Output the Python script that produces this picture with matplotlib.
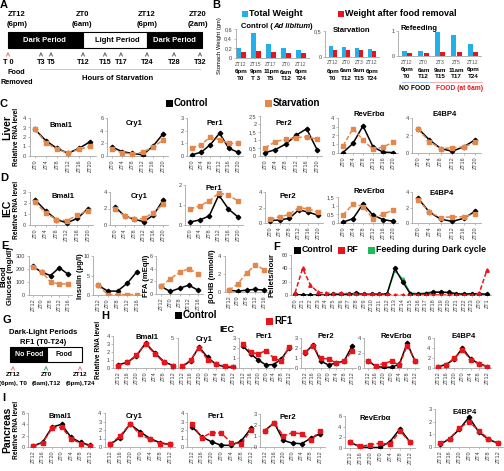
import numpy as np
import matplotlib
matplotlib.use("Agg")
import matplotlib.pyplot as plt
from matplotlib.patches import Rectangle
from matplotlib.ticker import FuncFormatter
from matplotlib.offsetbox import TextArea, HPacker, AnnotationBbox

plt.rcParams['font.family'] = ['Liberation Sans', 'DejaVu Sans']

# ---------------- data ----------------
zt6 = ['ZT0', 'ZT4', 'ZT8', 'ZT12', 'ZT16', 'ZT20']
zt7 = ['ZT12', 'ZT16', 'ZT20', 'ZT0', 'ZT4', 'ZT8', 'ZT12']
zt5 = ['ZT12', 'ZT0', 'ZT8', 'ZT12', 'ZT16']
genes = ['Bmal1', 'Cry1', 'Per1', 'Per2', 'RevErbα', 'E4BP4']

# B - stomach weight
b_ctrl_lbl = [('ZT12', '6pm', 'T0'), ('ZT15', '9pm', 'T 3'), ('ZT17', '11pm', 'T5'), ('ZT0', '6am', 'T12'), ('ZT12', '6pm', 'T24')]
b_ctrl_total = [0.20, 0.52, 0.28, 0.21, 0.17]
b_ctrl_after = [0.13, 0.15, 0.12, 0.10, 0.10]
b_starv_lbl = [('ZT12', '6pm', 'T0'), ('ZT0', '6am', 'T12'), ('ZT3', '9am', 'T15'), ('ZT12', '6pm', 'T24')]
b_starv_total = [0.21, 0.20, 0.18, 0.15]
b_starv_after = [0.13, 0.13, 0.13, 0.12]
b_refeed_lbl = [('ZT12', '6pm', 'T0'), ('ZT0', '6am', 'T12'), ('ZT3', '9am', 'T15'), ('ZT5', '11am', 'T17'), ('ZT12', '6pm', 'T24')]
b_refeed_total = [0.20, 0.20, 0.95, 0.85, 0.50]
b_refeed_after = [0.14, 0.12, 0.18, 0.16, 0.17]

# C - liver, control vs starvation
liver_ctrl = [[2.8, 1.6, 0.8, 0.3, 0.8, 1.5],
              [1.4, 0.7, 0.4, 0.2, 1.5, 3.5],
              [0.1, 0.3, 0.9, 1.8, 0.6, 0.3],
              [0.2, 0.4, 0.75, 1.3, 1.7, 0.4],
              [0.05, 1.1, 3.1, 0.7, 0.1, 0.05],
              [2.8, 1.5, 0.5, 0.2, 0.7, 1.5]]
liver_starv = [[2.8, 1.4, 0.7, 0.3, 0.7, 1.0],
               [1.1, 0.5, 0.3, 0.6, 1.4, 2.5],
               [0.6, 0.9, 1.5, 1.3, 1.0, 1.0],
               [0.5, 0.9, 1.05, 1.15, 1.2, 1.05],
               [0.8, 2.8, 1.5, 0.4, 0.7, 1.2],
               [2.7, 1.3, 0.5, 0.6, 0.7, 1.2]]
# D - IEC, control vs starvation
iec_ctrl = [[2.3, 1.3, 0.5, 0.2, 0.6, 1.5],
            [2.2, 1.1, 0.7, 0.4, 1.2, 3.0],
            [0.15, 0.25, 0.45, 1.5, 0.8, 0.4],
            [0.3, 0.4, 0.6, 1.7, 1.4, 1.0],
            [0.05, 0.25, 1.1, 0.45, 0.2, 0.1],
            [3.2, 1.4, 0.5, 0.2, 0.6, 1.5]]
iec_starv = [[2.1, 1.1, 0.5, 0.4, 0.9, 1.3],
             [1.9, 1.1, 0.7, 0.8, 1.5, 2.5],
             [0.8, 0.95, 1.2, 1.6, 1.5, 1.2],
             [0.55, 0.8, 1.1, 2.0, 1.8, 1.4],
             [0.45, 1.1, 0.95, 0.25, 0.5, 0.75],
             [3.0, 1.4, 0.7, 0.8, 0.8, 1.2]]
# E - blood
blood_names = ['Glucose', 'Insulin', 'FFA', 'βOHB']
blood_ctrl = [[220, 175, 150, 210, 160],
              [2.5, 1.0, 1.0, 3.0, 6.0],
              [1.2, 0.4, 0.9, 1.4, 0.6],
              [0.2, 0.1, 0.2, 0.3, 0.2]]
blood_starv = [[215, 180, 100, 85, 85],
               [2.5, 0.1, 0.1, 0.1, 0.1],
               [1.2, 2.4, 3.4, 4.0, 3.2],
               [0.2, 0.9, 2.1, 3.0, 2.5]]
# F - feeding activity
f_labels = ['ZT%d' % h for h in range(24)] + ['ZT0', 'ZT1']
f_ctrl = [1, 0, 0, 0, 0, 1, 1, 1, 3, 1, 1, 1, 2, 40, 20, 2, 1, 2, 4, 4, 4, 2, 1, 2, 2, 1]
f_rf = [3, 40, 15, 4, 3, 2, 3, 2, 2, 1, 1, 2, 1, 0, 0, 0, 0, 0, 0, 0, 0, 0, 0, 0, 3, 38]
f_dark = [1, 0, 0, 0, 0, 1, 1, 1, 1, 1, 1, 1, 2, 37, 24, 3, 2, 3, 5, 5, 3, 2, 2, 2, 1, 1]
# H - IEC, control vs RF1
h_ctrl = [[0.4, 0.7, 1.5, 3.1, 1.9, 0.8, 0.3],
          [0.2, 1.2, 3.5, 1.8, 0.6, 0.2, 0.1],
          [2.2, 1.4, 0.8, 0.3, 0.35, 0.9, 2.0],
          [1.5, 2.3, 0.7, 0.3, 0.5, 0.7, 2.2],
          [1.0, 0.2, 0.1, 0.1, 0.5, 3.3, 0.9],
          [0.3, 0.7, 1.8, 4.0, 1.8, 0.9, 0.3]]
h_rf = [[0.3, 0.7, 1.6, 3.0, 1.8, 0.7, 0.3],
        [0.3, 1.3, 3.4, 1.4, 0.7, 0.3, 0.2],
        [2.4, 1.6, 1.4, 1.75, 1.0, 0.7, 2.1],
        [1.6, 2.2, 1.0, 0.9, 0.5, 0.7, 1.7],
        [0.9, 0.3, 0.6, 0.9, 0.4, 3.0, 1.0],
        [0.2, 0.6, 2.0, 3.6, 1.7, 0.8, 0.3]]
# I - pancreas, control vs RF1
i_ctrl = [[0.2, 0.8, 3.5, 4.0, 1.7, 0.8, 0.3],
          [0.3, 1.1, 2.7, 1.8, 1.0, 0.5, 0.3],
          [2.4, 1.2, 0.6, 0.2, 0.2, 0.7, 2.2],
          [1.5, 2.2, 0.6, 0.35, 0.3, 0.8, 1.2],
          [1.1, 0.2, 0.1, 0.1, 1.2, 3.6, 1.1],
          [0.2, 0.65, 1.4, 2.35, 1.2, 0.6, 0.3]]
i_rf = [[0.2, 0.7, 3.3, 3.5, 1.5, 0.6, 0.2],
        [0.3, 1.3, 2.7, 1.5, 0.9, 0.4, 0.3],
        [2.7, 1.1, 1.7, 1.6, 0.5, 0.4, 2.0],
        [1.5, 2.2, 1.0, 1.3, 1.2, 0.6, 1.5],
        [1.1, 0.3, 0.6, 0.9, 0.7, 3.2, 1.1],
        [0.3, 0.65, 1.5, 2.0, 1.3, 0.65, 0.3]]

BLACK = '#000000'
ORANGE = '#E4874B'
RED = '#E8141B'
GREEN = '#21B95A'
BLUE = '#22B0E8'
GREY = '#A6A6A6'

W, H = 504, 471
fig = plt.figure(figsize=(W / 100, H / 100), dpi=100)


def px_ax(l, t, r, b):
    return fig.add_axes([l / W, 1 - b / H, (r - l) / W, (b - t) / H])


def ftext(x, y, s, **kw):
    kw.setdefault('ha', 'center')
    kw.setdefault('va', 'center')
    return fig.text(x / W, 1 - y / H, s, **kw)


def comma(v, p):
    return ('%g' % v).replace('.', ',')


def style(ax, yticks):
    for s in ['top', 'right']:
        ax.spines[s].set_visible(False)
    for s in ['left', 'bottom']:
        ax.spines[s].set_color(GREY)
        ax.spines[s].set_linewidth(0.6)
    ax.set_yticks(yticks)
    ax.set_ylim(yticks[0], yticks[-1])
    ax.yaxis.set_major_formatter(FuncFormatter(comma))
    ax.tick_params(axis='both', labelsize=4, length=1.5, width=0.5, color=GREY,
                   pad=1, labelcolor='#404040')
    ax.tick_params(axis='x', pad=0.8)


def line_panel(x0, x1, top, bot, labels, ctrl, treat, tcolor, yticks, title,
               tx=0.3, ty=0.9, mk='s'):
    n = len(labels)
    s = (x1 - x0) / (n - 1)
    ax = px_ax(x0 - s / 2, top, x1 + s / 2, bot)
    xs = np.arange(n)
    ax.plot(xs, ctrl, color=BLACK, marker='D', ms=2.3, lw=1.1, zorder=3)
    ax.plot(xs, treat, color=tcolor, marker=mk, ms=2.5, lw=1.1, ls=(0, (3, 1.5)), zorder=4)
    ax.set_xlim(-0.5, n - 0.5)
    ax.set_xticks(xs)
    ax.set_xticklabels(labels, rotation=90, fontsize=3.2)
    style(ax, yticks)
    ax.set_ylim(yticks[0], yticks[-1])
    if title:
        ax.text(tx, ty, title, transform=ax.transAxes, fontsize=5.5, weight='bold',
                va='center', ha='left', clip_on=False)
    return ax


# ---------------- overlay for schematic panels and legend keys ----------------
ov = fig.add_axes([0, 0, 1, 1])
ov.set_xlim(0, W)
ov.set_ylim(H, 0)
ov.axis('off')


def key(x, y, color, label, size=7, fs=7):
    ov.add_patch(Rectangle((x, y - size / 2), size, size, fc=color, ec='none'))
    ftext(x + size + 1, y, label, fontsize=fs, weight='bold', ha='left')


# Panel A
ftext(4, 5, 'A', fontsize=8, weight='bold')
for x, a, b in [(17, 'ZT12', '(6pm)'), (82, 'ZT0', '(6am)'), (147, 'ZT12', '(6pm)'), (198, 'ZT20', '(2am)')]:
    ftext(x, 15, a, fontsize=5.5, weight='bold')
    ftext(x, 25, b, fontsize=5.5, weight='bold')
ov.add_patch(Rectangle((8, 32), 75, 16, fc='black', ec='black', lw=0.8))
ov.add_patch(Rectangle((83, 32), 64, 16, fc='white', ec='black', lw=0.8))
ov.add_patch(Rectangle((147, 32), 55, 16, fc='black', ec='black', lw=0.8))
ftext(44, 40, 'Dark Period', fontsize=5.5, weight='bold', color='white')
ftext(117, 40, 'Light Period', fontsize=5.5, weight='bold')
ftext(174, 40, 'Dark Period', fontsize=5.5, weight='bold', color='white')
for x, lab in [(8, 'T 0'), (41, 'T3'), (51, 'T5'), (83, 'T12'), (105, 'T15'), (121, 'T17'),
               (147, 'T24'), (174, 'T28'), (200, 'T32')]:
    c = '#F08080' if lab == 'T 0' else '#707070'
    ov.annotate('', xy=(x, 49), xytext=(x, 58),
                arrowprops=dict(arrowstyle='->', color=c, lw=0.7, mutation_scale=6))
    ftext(x, 63, lab, fontsize=5.2, weight='bold')
ftext(16, 73, 'Food', fontsize=5.2, weight='bold')
ftext(17, 83, 'Removed', fontsize=5.2, weight='bold')
ov.plot([40, 200], [69, 69], color='#9DC3E6', lw=0.6)
ftext(118, 79, 'Hours of Starvation', fontsize=5.5, weight='bold')

# Panel G
ftext(7, 320, 'G', fontsize=8, weight='bold')
ftext(43, 333, 'Dark-Light Periods', fontsize=5.5, weight='bold')
ftext(43, 342, 'RF1 (T0-T24)', fontsize=5.5, weight='bold')
ov.add_patch(Rectangle((10, 347), 37, 15, fc='black', ec='black', lw=0.8))
ov.add_patch(Rectangle((47, 347), 35, 15, fc='white', ec='black', lw=0.8))
ftext(29, 354.5, 'No Food', fontsize=5, weight='bold', color='white')
ftext(64, 354.5, 'Food', fontsize=5, weight='bold')
for x, c, a, b in [(13, '#F08080', 'ZT12', '(6pm), T0'), (46, '#3CB371', 'ZT0', '(6am),T12'),
                   (80, '#F08080', 'ZT12', '(6pm),T24')]:
    ov.annotate('', xy=(x, 363), xytext=(x, 371),
                arrowprops=dict(arrowstyle='->', color=c, lw=0.7, mutation_scale=6))
    ftext(x, 375, a, fontsize=4.5, weight='bold')
    ftext(x, 384, b, fontsize=4.5, weight='bold')

# ---------------- Panel B ----------------
ftext(216, 5, 'B', fontsize=8, weight='bold')
key(242, 14, BLUE, 'Total Weight', size=6, fs=6.5)
key(338, 14, RED, 'Weight after food removal', size=6, fs=6.5)
ftext(220, 46, 'Stomach Weight (gm)', fontsize=4.2, rotation=90)


def bar_panel(spine, c0, c1, top, bot, labels, total, after, yticks):
    n = len(labels)
    s = (c1 - c0) / (n - 1)
    ax = px_ax(spine, top, c1 + s / 2, bot)
    xs = np.arange(n)
    ax.bar(xs - 0.16, total, width=0.32, color=BLUE)
    ax.bar(xs + 0.16, after, width=0.32, color=RED)
    ax.set_xlim(-(c0 - spine) / s, n - 0.5)
    ax.set_xticks([])
    style(ax, yticks)
    for i, (a, b, c) in enumerate(labels):
        ax.annotate(a, xy=(i, 0), xycoords=('data', 'axes fraction'), xytext=(0, -6),
                    textcoords='offset pixels', ha='center', va='center', fontsize=3.6, color='#555555')
        ax.annotate(b, xy=(i, 0), xycoords=('data', 'axes fraction'), xytext=(0, -14),
                    textcoords='offset pixels', ha='center', va='center', fontsize=4.5, weight='bold')
        ax.annotate(c, xy=(i, 0), xycoords=('data', 'axes fraction'), xytext=(0, -21),
                    textcoords='offset pixels', ha='center', va='center', fontsize=4.5, weight='bold')
    return ax


bar_panel(235.5, 241, 301, 29, 58, b_ctrl_lbl, b_ctrl_total, b_ctrl_after, [0, 0.2, 0.4, 0.6])
bar_panel(325, 333, 372, 31, 57, b_starv_lbl, b_starv_total, b_starv_after, [0, 0.5])
bar_panel(398, 407, 473, 31, 56, b_refeed_lbl, b_refeed_total, b_refeed_after, [0, 1])

tp = HPacker(children=[TextArea('Control (', textprops=dict(fontsize=5.5, weight='bold')),
                       TextArea('Ad libitum', textprops=dict(fontsize=5.5, weight='bold', style='italic')),
                       TextArea(')', textprops=dict(fontsize=5.5, weight='bold'))],
             pad=0, sep=0)
fig.add_artist(AnnotationBbox(tp, (277 / W, 1 - 27 / H), xycoords='figure fraction', frameon=False))
ftext(352, 31, 'Starvation', fontsize=5.5, weight='bold')
ftext(419, 29, 'Refeeding', fontsize=5.5, weight='bold')
ov.plot([402, 430], [82, 82], color='#9DC3E6', lw=0.6)
ov.plot([431, 482], [82, 82], color='#F4A6A6', lw=0.6)
ftext(415, 89, 'NO FOOD', fontsize=4.8, weight='bold')
ftext(460, 89, 'FOOD (at 6am)', fontsize=4.8, weight='bold', color=RED)

# ---------------- Panel C (liver) ----------------
ftext(4, 104, 'C', fontsize=8, weight='bold')
key(166, 103, BLACK, 'Control')
key(265, 103, ORANGE, 'Starvation')
ftext(7, 128, 'Liver', fontsize=7.5, weight='bold', rotation=90)
ftext(16, 137, 'Relative RNA level', fontsize=4.8, weight='bold', rotation=90)
c_layout = [(35, 90, 118, 156, [0, 1, 2, 3, 4], 0.3, 0.8),
            (112, 163, 118, 156, [0, 2, 4, 6], 0.3, 0.85),
            (192, 238, 118, 156, [0, 1, 2, 3], 0.35, 0.85),
            (265, 317, 116, 156, [0, 0.5, 1, 1.5, 2, 2.5], 0.25, 0.82),
            (343, 393, 118, 153, [0, 1, 2, 3, 4], 0.25, 1.1),
            (418, 475, 118, 153, [0, 2, 4], 0.3, 1.1)]
for g, (x0, x1, t, b, yt, tx, ty) in enumerate(c_layout):
    line_panel(x0, x1, t, b, zt6, liver_ctrl[g], liver_starv[g], ORANGE, yt, genes[g], tx, ty)

# ---------------- Panel D (IEC) ----------------
ftext(4, 178, 'D', fontsize=8, weight='bold')
ftext(7, 208, 'IEC', fontsize=7.5, weight='bold', rotation=90)
ftext(16, 210, 'Relative RNA level', fontsize=4.8, weight='bold', rotation=90)
d_layout = [(35, 88, 192, 225, [0, 1, 2, 3], 0.35, 0.85),
            (115, 163, 192, 225, [0, 2, 4], 0.35, 0.85),
            (190, 238, 185, 225, [0, 1, 2], 0.35, 0.92),
            (270, 318, 192, 223, [0, 2, 4], 0.25, 0.85),
            (343, 393, 197, 223, [0, 0.5, 1, 1.5], 0.25, 1.2),
            (418, 475, 192, 223, [0, 2, 4], 0.25, 0.95)]
for g, (x0, x1, t, b, yt, tx, ty) in enumerate(d_layout):
    line_panel(x0, x1, t, b, zt6, iec_ctrl[g], iec_starv[g], ORANGE, yt, genes[g], tx, ty)

# ---------------- Panel E (blood) ----------------
ftext(5, 246, 'E', fontsize=8, weight='bold')
ftext(4, 276, 'Blood', fontsize=5.5, weight='bold', rotation=90)
ftext(11, 276, 'Glucose (mg/dl)', fontsize=5.5, weight='bold', rotation=90)
ftext(80, 276, 'Insulin (μg/l)', fontsize=5.5, weight='bold', rotation=90)
ftext(147, 276, 'FFA (mEq/l)', fontsize=5.5, weight='bold', rotation=90)
ftext(212, 276, 'βOHB (mmol/l)', fontsize=5.5, weight='bold', rotation=90)
e_layout = [(33, 68, 256, 295, [0, 100, 200, 300]),
            (98, 137, 256, 295, [0, 5, 10]),
            (161, 198, 256, 294, [0, 2, 4, 6]),
            (229, 264, 256, 292, [0, 2, 4])]
for g, (x0, x1, t, b, yt) in enumerate(e_layout):
    line_panel(x0, x1, t, b, zt5, blood_ctrl[g], blood_starv[g], ORANGE, yt, None)

# ---------------- Panel F (feeding) ----------------
ftext(277, 247, 'F', fontsize=8, weight='bold')
key(294, 250, BLACK, 'Control', size=7, fs=6.3)
key(338, 250, RED, 'RF', size=7, fs=6.3)
key(368, 250, GREEN, 'Feeding during Dark cycle', size=7, fs=6.3)
ftext(272, 275, 'Pellets/hour', fontsize=5.5, weight='bold', rotation=90)
n = len(f_labels)
s = (487 - 295) / (n - 1)
axf = px_ax(295 - s / 2, 255, 487 + s / 2, 295)
xs = np.arange(n)
axf.plot(xs, f_dark, color=GREEN, marker='^', ms=2.5, lw=1.1, zorder=3)
axf.plot(xs, f_ctrl, color=BLACK, marker='D', ms=2.2, lw=1.0, zorder=4)
axf.plot(xs, f_rf, color=RED, marker='^', ms=2.5, lw=1.1, ls=(0, (3, 1.5)), zorder=5)
axf.set_xlim(-0.5, n - 0.5)
axf.set_xticks(xs)
axf.set_xticklabels(f_labels, rotation=90, fontsize=3.2)
style(axf, [0, 20, 40, 60])

# ---------------- Panel H (IEC, RF1) ----------------
ftext(105, 316, 'H', fontsize=8, weight='bold')
key(175, 315, BLACK, 'Control')
key(266, 321, RED, 'RF1')
ftext(227, 330, 'IEC', fontsize=6.5, weight='bold')
ftext(99, 350, 'Relative RNA level', fontsize=4.8, weight='bold', rotation=90)
h_layout = [(118, 173, 336, 368, [0, 1, 2, 3, 4], 0.35, 0.95),
            (182, 233, 338, 368, [0, 5], 0.3, 0.95),
            (243, 289, 338, 368, [0, 1, 2, 3], 0.3, 1.05),
            (305, 352, 338, 368, [0, 1, 2, 3], 0.3, 1.05),
            (368, 415, 338, 368, [0, 2, 4], 0.3, 1.05),
            (438, 487, 338, 368, [0, 2, 4, 6], 0.3, 1.05)]
for g, (x0, x1, t, b, yt, tx, ty) in enumerate(h_layout):
    line_panel(x0, x1, t, b, zt7, h_ctrl[g], h_rf[g], RED, yt, genes[g], tx, ty)

# ---------------- Panel I (pancreas, RF1) ----------------
ftext(4, 398, 'I', fontsize=8, weight='bold')
ftext(7, 430, 'Pancreas', fontsize=7.5, weight='bold', rotation=90)
ftext(16, 430, 'Relative RNA level', fontsize=4.8, weight='bold', rotation=90)
i_layout = [(33, 90, 413, 447, [0, 2, 4, 6], 0.3, 0.9),
            (110, 170, 413, 447, [0, 1, 2, 3, 4], 0.3, 0.9),
            (192, 251, 413, 447, [0, 1, 2, 3, 4], 0.3, 0.9),
            (265, 320, 414, 447, [0, 1, 2, 3], 0.3, 0.9),
            (350, 410, 416, 448, [0, 2, 4, 6], 0.2, 0.92),
            (440, 498, 409, 447, [0, 1, 2, 3], 0.25, 0.92)]
for g, (x0, x1, t, b, yt, tx, ty) in enumerate(i_layout):
    line_panel(x0, x1, t, b, zt7, i_ctrl[g], i_rf[g], RED, yt, genes[g], tx, ty)

fig.savefig('out.png', dpi=100)
